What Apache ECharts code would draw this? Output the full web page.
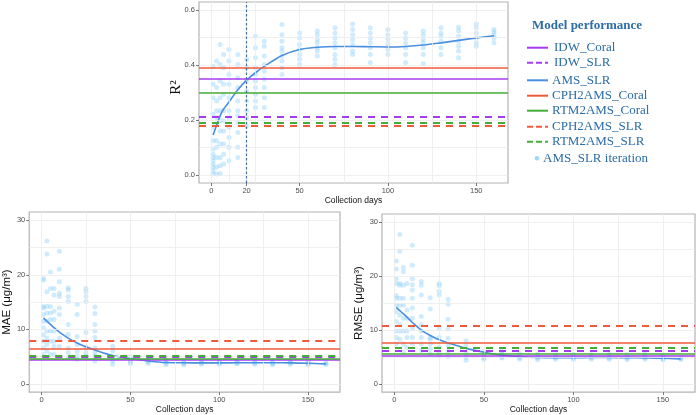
<!DOCTYPE html>
<html>
<head>
<meta charset="utf-8">
<script src="https://cdn.jsdelivr.net/npm/echarts@6/dist/echarts.min.js"></script>
<style>html,body{margin:0;padding:0;background:#fff}#c{width:696px;height:415px}</style>
</head>
<body>
<div id="c"></div>
<script>
// ---------------- data ----------------
const days = [1,3,5,7,10,15,20,25,30,40,50,60,70,80,90,100,110,120,130,140,150,160];

const r2Iter = [
  [0.396,0.33,0.281,0.221,0.173,0.124,0.094,0.075,0.063,0.051,0.039,0.027,0.015,0.003],
  [0.415,0.318,0.269,0.233,0.209,0.185,0.124,0.100,0.063,0.027,0.003],
  [0.475,0.402,0.342,0.281,0.233,0.197,0.160,0.112,0.063,0.033,0.005],
  [0.439,0.390,0.330,0.294,0.233,0.197,0.160,0.112,0.075,0.039],
  [0.457,0.415,0.366,0.330,0.281,0.233,0.209,0.173,0.136,0.100,0.051],
  [0.439,0.402,0.354,0.318,0.269,0.233,0.215,0.191,0.154,0.100,0.063],
  [0.421,0.390,0.342,0.305,0.269,0.233,0.209,0.179],
  [0.505,0.463,0.427,0.390,0.366,0.342,0.318,0.294,0.269,0.245],
  [0.487,0.469,0.433,0.402,0.378,0.348,0.318,0.281,0.245],
  [0.548,0.511,0.487,0.463,0.451,0.433,0.415,0.390,0.366],
  [0.517,0.499,0.475,0.457,0.439,0.421,0.402],
  [0.524,0.511,0.493,0.481,0.463,0.451,0.433],
  [0.536,0.517,0.499,0.481,0.463,0.439,0.421,0.402],
  [0.550,0.530,0.511,0.493,0.475,0.451,0.439],
  [0.536,0.517,0.499,0.481,0.463,0.439,0.409],
  [0.530,0.511,0.493,0.475,0.457,0.439],
  [0.517,0.499,0.481,0.463,0.439,0.409],
  [0.524,0.511,0.493,0.481,0.463,0.439,0.405],
  [0.536,0.517,0.505,0.487,0.463,0.439],
  [0.538,0.524,0.505,0.487,0.469,0.451,0.427],
  [0.550,0.536,0.517,0.499,0.481,0.469],
  [0.530,0.521,0.511,0.499,0.481]
];

const maeIter = [
  [19.3,19.0,14.2,13.9,12.7,11.5,10.3,9.0,7.8,6.6,5.4],
  [26.2,23.8,16.9,14.2,13.0,11.5,9.7,8.4,7.2,6.0],
  [20.5,17.5,14.2,13.0,11.8,9.7,7.8,5.4],
  [17.5,16.3,13.3,11.8,9.7,7.8,6.9,5.4],
  [24.3,21.0,18.7,16.6,16.0,13.9,12.7,8.4,6.9],
  [17.6,17.2,16.0,15.1,10.9,9.1,6.6,5.7,4.8],
  [14.6,12.7,8.7,7.2,6.0,5.1,4.5],
  [17.5,16.9,16.0,15.1,9.4,6.6,5.7,5.1],
  [14.1,12.9,10.9,9.7,8.5,6.6,5.7,5.1,4.2],
  [6.9,6.0,4.8,4.2,3.6],
  [5.0,4.6,4.3,4.0,3.7],
  [4.9,4.5,4.2,4.0,3.8],
  [4.3,4.0,3.8,3.5],
  [4.2,3.9,3.7,3.5],
  [4.2,4.0,3.8,3.6],
  [4.3,4.0,3.8,3.6],
  [4.2,4.0,3.8,3.7],
  [4.3,4.0,3.8,3.6],
  [4.2,3.9,3.7,3.5],
  [4.3,4.0,3.8,3.6],
  [4.1,3.9,3.7,3.5],
  [3.9,3.7,3.6]
];

const rmseIter = [
  [22.8,21.3,19.5,18.6,16.4,15.9,14.6,13.4,11.6,9.8,8.6,7.4],
  [27.7,24.6,18.6,18.3,15.9,14.6,12.8,11.0,9.8,8.3],
  [21.6,20.8,18.3,15.9,14.6,12.2,9.8,7.4,5.9],
  [18.6,13.7,12.2,9.8,8.6,6.8],
  [25.7,22.0,19.5,18.4,17.4,15.9,14.1,12.2,10.4,8.6,7.4],
  [19.0,18.3,16.5,12.5,11.0,9.8,8.6,7.4,6.2],
  [16.0,13.9,8.6,8.3,7.4,6.5,5.6],
  [18.6,18.2,17.2,16.5,10.4,8.6,6.8,5.9,5.3],
  [15.7,14.8,12.0,10.2,8.5,7.2,6.0,5.1],
  [8.0,7.1,5.9,5.0,4.4],
  [6.0,5.5,5.1,4.8,4.6],
  [6.1,5.7,5.3,5.0,4.8],
  [5.6,5.2,4.9,4.6],
  [5.5,5.1,4.8,4.5],
  [5.4,5.1,4.8,4.6],
  [5.5,5.1,4.8,4.6],
  [5.4,5.1,4.9,4.6],
  [5.5,5.1,4.8,4.6],
  [5.4,5.0,4.8,4.5],
  [5.5,5.1,4.8,4.6],
  [5.3,5.0,4.7,4.5],
  [4.9,4.7,4.6]
];

const r2Fit   = [0.145,0.18,0.215,0.24,0.265,0.31,0.345,0.372,0.395,0.435,0.457,0.465,0.468,0.468,0.467,0.466,0.468,0.473,0.481,0.49,0.499,0.507];
const maeFit  = [12.1,11.5,10.9,10.3,9.5,8.4,7.5,6.8,6.2,5.2,4.6,4.2,3.92,3.87,3.86,3.86,3.87,3.88,3.88,3.86,3.8,3.68];
const rmseFit = [14.2,13.6,13.0,12.4,11.4,10.0,9.0,8.2,7.6,6.6,5.9,5.35,5.05,4.92,4.88,4.88,4.9,4.9,4.88,4.84,4.78,4.65];

const modelNames = ['IDW_Coral','IDW_SLR','CPH2AMS_Coral','RTM2AMS_Coral','CPH2AMS_SLR','RTM2AMS_SLR'];
const r2Ref   = [0.348, 0.211, 0.388, 0.299, 0.176, 0.189];
const maeRef  = [4.47, 5.0, 6.51, 4.7, 7.85, 5.25];
const rmseRef = [5.25, 6.21, 7.59, 5.55, 10.84, 6.69];
const cutoffDay = 20;

const xTicksTop = [0,20,50,100,150];
const xTicksBottom = [0,50,100,150];
const yTicksR2 = [0,0.2,0.4,0.6];
const yTicksErr = [0,10,20,30];

// ---------------- styles ----------------
const modelColors = ['#a63cf0','#a63cf0','#f05a3a','#44ad36','#f05a3a','#44ad36'];
const modelDashed = [false,true,false,false,true,true];
const fitColor = '#4a8fe0';
const dotColor = 'rgba(135,206,250,0.5)';
const gridColor = '#ebebeb';
const labelColor = '#4d4d4d';
const legendColor = '#2c6da6';

const panels = [
  {iter:r2Iter, fit:r2Fit, ref:r2Ref, xTicks:xTicksTop, yTicks:yTicksR2,
   xMinor:[10,25,75,125], yMinor:[0.1,0.3,0.5], ymin:-0.03, ymax:0.63,
   grid:{left:199, top:2, width:309, height:181}, yName:'R²', serif:true, yGap:15, xGap:9,
   fmt:v=>v.toFixed(1)},
  {iter:maeIter, fit:maeFit, ref:maeRef, xTicks:xTicksBottom, yTicks:yTicksErr,
   xMinor:[25,75,125], yMinor:[5,15,25], ymin:-1.5, ymax:31.5,
   grid:{left:27, top:212, width:313, height:182}, yName:'MAE (μg/m³)', serif:false, yGap:14, xGap:12,
   fmt:v=>String(v)},
  {iter:rmseIter, fit:rmseFit, ref:rmseRef, xTicks:xTicksBottom, yTicks:yTicksErr,
   xMinor:[25,75,125], yMinor:[5,15,25], ymin:-1.5, ymax:31.5,
   grid:{left:382, top:214, width:313, height:183}, yName:'RMSE (μg/m³)', serif:false, yGap:17, xGap:9,
   fmt:v=>String(v)}
];

const grids = [], xAxes = [], yAxes = [], series = [];
panels.forEach((p, i) => {
  grids.push(Object.assign({show:true, borderColor:'#b4b4b4', borderWidth:1.2, backgroundColor:'#fff'}, p.grid));
  xAxes.push({
    type:'value', gridIndex:i, min:-6.95, max:167.95,
    axisLine:{show:false, onZero:false},
    splitLine:{show:false},
    axisTick:{show:true, length:3, customValues:p.xTicks, lineStyle:{color:'#555', width:0.8}},
    axisLabel:{customValues:p.xTicks, color:labelColor, fontSize:7.5, fontFamily:'Liberation Sans', margin:4},
    name:'Collection days', nameLocation:'middle', nameGap:p.xGap,
    nameTextStyle:{color:'#111', fontSize:8.5, fontFamily:'Liberation Sans', verticalAlign:'top'}
  });
  const yAx = {
    type:'value', gridIndex:i, min:p.ymin, max:p.ymax,
    axisLine:{show:false, onZero:false},
    splitLine:{show:false},
    axisTick:{show:true, length:3, customValues:p.yTicks, lineStyle:{color:'#555', width:0.8}},
    axisLabel:{customValues:p.yTicks, color:labelColor, fontSize:7.5, fontFamily:'Liberation Sans', margin:4, formatter:p.fmt},
    name:p.yName, nameLocation:'middle', nameGap:p.yGap,
    nameTextStyle: p.serif
      ? {color:'#111', fontSize:15, fontFamily:'Liberation Serif', padding:[0,0,0,10]}
      : {color:'#111', fontSize:11.5, fontFamily:'Liberation Sans'}
  };
  if (p.serif) yAx.nameMoveOverlap = false;
  yAxes.push(yAx);
  // gridlines (major + minor)
  const gl = [];
  p.xTicks.concat(p.xMinor).forEach(v => gl.push({xAxis:v}));
  p.yTicks.concat(p.yMinor).forEach(v => gl.push({yAxis:v}));
  series.push({
    type:'line', xAxisIndex:i, yAxisIndex:i, data:[], silent:true, z:0,
    markLine:{silent:true, symbol:'none', label:{show:false}, animation:false,
      lineStyle:{color:gridColor, width:0.8, type:'solid'}, data:gl}
  });
  // iteration scatter
  const pts = [];
  days.forEach((d, k) => p.iter[k].forEach(v => pts.push([d, v])));
  series.push({
    name:'AMS_SLR iteration', type:'scatter', xAxisIndex:i, yAxisIndex:i, data:pts,
    symbolSize:5, itemStyle:{color:dotColor}, z:2, silent:true
  });
  // reference models as horizontal lines
  modelNames.forEach((m, k) => {
    series.push({
      name:m, type:'line', xAxisIndex:i, yAxisIndex:i, data:[], z:3,
      markLine:{silent:true, symbol:'none', label:{show:false}, animation:false,
        lineStyle:{color:modelColors[k], width: modelDashed[k] ? 2 : 1.6,
                   type: modelDashed[k] ? [7,6] : 'solid'},
        data:[{yAxis:p.ref[k]}]}
    });
  });
  if (i === 0) {
    series.push({
      type:'line', xAxisIndex:0, yAxisIndex:0, data:[], z:3,
      markLine:{silent:true, symbol:'none', label:{show:false}, animation:false,
        lineStyle:{color:'#44709c', width:1.2, type:[2.5,2]},
        data:[{xAxis:cutoffDay}]}
    });
  }
  // AMS_SLR smooth fit
  series.push({
    name:'AMS_SLR', type:'line', xAxisIndex:i, yAxisIndex:i,
    data: days.map((d, k) => [d, p.fit[k]]),
    smooth:0.35, showSymbol:false, lineStyle:{color:fitColor, width:1.6}, z:4, silent:true
  });
});

// legend (drawn as graphic)
const legendItems = [
  {name:'IDW_Coral',      y:47.7,  color:'#a63cf0', dash:null,  tx:554},
  {name:'IDW_SLR',        y:62.7,  color:'#a63cf0', dash:[6,3], tx:554},
  {name:'AMS_SLR',        y:80.3,  color:fitColor,  dash:null,  tx:552},
  {name:'CPH2AMS_Coral',  y:95.7,  color:'#f05a3a', dash:null,  tx:552},
  {name:'RTM2AMS_Coral',  y:110.7, color:'#44ad36', dash:null,  tx:552},
  {name:'CPH2AMS_SLR',    y:126.7, color:'#f05a3a', dash:[6,3], tx:552},
  {name:'RTM2AMS_SLR',    y:141.7, color:'#44ad36', dash:[6,3], tx:552}
];
const graphic = [{
  type:'text', left:532, top:19,
  style:{text:'Model performance', font:'bold 13px "Liberation Serif"', fill:legendColor}
}];
legendItems.forEach(it => {
  graphic.push({type:'line', shape:{x1:527, y1:it.y, x2:548, y2:it.y},
    style:{stroke:it.color, lineWidth:2, lineDash:it.dash || null}});
  graphic.push({type:'text', x:it.tx, y:it.y,
    style:{text:it.name, font:'13px "Liberation Serif"', fill:legendColor, verticalAlign:'middle'}});
});
graphic.push({type:'circle', shape:{cx:537, cy:158.3, r:2.3}, style:{fill:'rgba(135,206,250,0.8)'}});
graphic.push({type:'text', x:543, y:158.3,
  style:{text:'AMS_SLR iteration', font:'13px "Liberation Serif"', fill:legendColor, verticalAlign:'middle'}});

const chart = echarts.init(document.getElementById('c'), null, {renderer:'canvas'});
chart.setOption({
  animation:false,
  backgroundColor:'#fff',
  grid:grids, xAxis:xAxes, yAxis:yAxes, series:series, graphic:graphic
});
</script>
</body>
</html>
